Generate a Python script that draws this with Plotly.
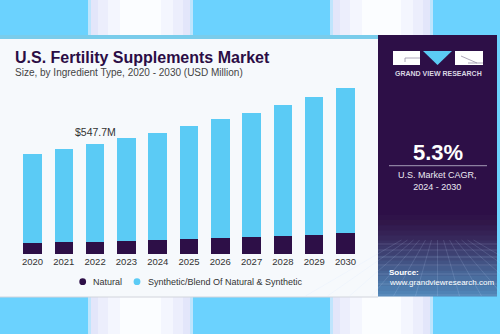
import plotly.graph_objects as go

W, H = 500, 334

years = ["2020", "2021", "2022", "2023", "2024", "2025", "2026", "2027", "2028", "2029", "2030"]
natural = [55, 60, 63, 68, 71, 76, 81, 84, 91, 97, 106]
synthetic = [443, 464, 484.7, 510, 533, 561, 589, 619, 650, 683, 720]
series_names = ["Natural", "Synthetic/Blend Of Natural & Synthetic"]
highlight_year = "2022"
highlight_label = "$547.7M"
cagr_text = "5.3%"
cagr_caption = "U.S. Market CAGR,<br>2024 - 2030"

DARK = "#2D0F47"
BLUE = "#5BCBF5"
FONT = "Liberation Sans, Arial, sans-serif"

xpos = [int(y) for y in years]


def X(px):
    return px / W


def Y(py):
    return 1 - py / H


def rect(x0, y0, x1, y1, color, layer="below"):
    return dict(type="rect", xref="paper", yref="paper", x0=X(x0), x1=X(x1), y0=Y(y1), y1=Y(y0),
                fillcolor=color, line=dict(width=0), layer=layer)


def pline(x0, y0, x1, y1, color, width=1):
    return dict(type="line", xref="paper", yref="paper", x0=X(x0), x1=X(x1), y0=Y(y0), y1=Y(y1),
                line=dict(color=color, width=width), layer="below")


shapes = []
# background white blurred bands
for bx0, bx1 in [(88, 193), (330, 433)]:
    steps = [(0, "#BFE5FD"), (3, "#E3E6FA"), (10, "#ECEEFC"), (20, "#F4F6FE"), (32, "#FBFDFF")]
    for inset, col in steps:
        shapes.append(rect(bx0 + inset, 0, bx1 - inset, H, col))

# card
shapes.append(rect(0, 35, 378, 297, "#F6F9FC"))
shapes.append(rect(0, 35, 378, 39, "#79CCEB"))
shapes.append(pline(0, 297, 378, 297, "#D2D4DC"))

# right panel with gradient bottom
shapes.append(rect(378, 35, 497, 296, DARK))
grad = ["#2F1349", "#311749", "#331C50", "#352255", "#37285B", "#393062", "#3B386A", "#3D4172",
        "#404A7B", "#425384", "#455C8D", "#476596", "#4A6E9F", "#4C76A7", "#4E7DAF", "#5083B5"]
y_start, y_end = 215, 296
step = (y_end - y_start) / len(grad)
for i, c in enumerate(grad):
    shapes.append(rect(378, y_start + i * step, 497, y_start + (i + 1) * step + 0.5, c))
for gy in [244, 250, 257, 265, 274, 284, 295]:
    shapes.append(pline(378, gy, 497, gy, "rgba(200,220,255,0.18)"))
for k in range(-6, 7):
    shapes.append(pline(437.5 + k * 6, 240, 437.5 + k * 22, 296, "rgba(200,220,255,0.15)"))

# logo
shapes.append(rect(393, 51, 420, 65, "white"))
shapes.append(rect(455, 51, 483, 65, "white"))
shapes.append(dict(type="path", xref="paper", yref="paper",
                   path=f"M {X(423)},{Y(51)} L {X(452)},{Y(51)} L {X(437.5)},{Y(65)} Z",
                   fillcolor=BLUE, line=dict(width=0), layer="below"))
shapes.append(pline(405, 58, 420, 58, "#9A93A8", 0.8))
shapes.append(pline(405, 58, 405, 62, "#9A93A8", 0.8))
shapes.append(pline(461, 56, 477, 63, "#9A93A8", 0.8))
shapes.append(pline(468, 63, 483, 63, "#9A93A8", 0.8))

# CAGR divider
shapes.append(pline(389, 165.7, 487, 165.7, "#8C7FA0", 1.2))

# legend markers
for cx, col in [(82.7, DARK), (137, BLUE)]:
    r = 3.4
    shapes.append(dict(type="circle", xref="paper", yref="paper", x0=X(cx - r), x1=X(cx + r),
                       y0=Y(281.7 + r), y1=Y(281.7 - r), fillcolor=col, line=dict(width=0), layer="above"))

fig = go.Figure()
fig.add_trace(go.Bar(x=xpos, y=natural, name=series_names[0], marker=dict(color=DARK, line=dict(width=0))))
fig.add_trace(go.Bar(x=xpos, y=synthetic, name=series_names[1], marker=dict(color=BLUE, line=dict(width=0))))

totals = [n + s for n, s in zip(natural, synthetic)]
hi = years.index(highlight_year)

annotations = [
    dict(text="<b>U.S. Fertility Supplements Market</b>", x=X(12.5), y=Y(57.5), xanchor="left", yanchor="middle",
         font=dict(family=FONT, size=16, color="#2B0D45")),
    dict(text="Size, by Ingredient Type, 2020 - 2030 (USD Million)", x=X(12.5), y=Y(72.7), xanchor="left",
         yanchor="middle", font=dict(family=FONT, size=10, color="#444444")),
    dict(text=highlight_label, x=xpos[hi], y=totals[hi], xref="x", yref="y", xanchor="center", yanchor="bottom",
         yshift=4, font=dict(family=FONT, size=10.5, color="#333333")),
    dict(text=series_names[0], x=X(90.5), y=Y(281.7), xanchor="left", yanchor="middle",
         font=dict(family=FONT, size=9, color="#333333")),
    dict(text=series_names[1], x=X(145.5), y=Y(281.7), xanchor="left", yanchor="middle",
         font=dict(family=FONT, size=9, color="#333333")),
    dict(text="<b>GRAND VIEW RESEARCH</b>", x=X(438), y=Y(73.5), xanchor="center", yanchor="middle",
         font=dict(family=FONT, size=7, color="#D9D5E2")),
    dict(text="<b>" + cagr_text + "</b>", x=X(438), y=Y(152.5), xanchor="center", yanchor="middle",
         font=dict(family=FONT, size=22, color="white")),
    dict(text=cagr_caption, x=X(437.5), y=Y(180.5), xanchor="center", yanchor="middle",
         font=dict(family=FONT, size=9, color="#ECEAF2")),
    dict(text="<b>Source:</b>", x=X(386.5), y=Y(272.5), xanchor="left", yanchor="middle",
         font=dict(family=FONT, size=8, color="white")),
    dict(text="www.grandviewresearch.com", x=X(386.5), y=Y(282.7), xanchor="left", yanchor="middle",
         font=dict(family=FONT, size=8, color="white")),
]
for a in annotations:
    a.setdefault("xref", "paper")
    a.setdefault("yref", "paper")
    a["showarrow"] = False

fig.update_layout(
    width=W, height=H,
    margin=dict(l=0, r=0, t=0, b=0),
    paper_bgcolor="#6BD2FE",
    plot_bgcolor="rgba(0,0,0,0)",
    barmode="stack",
    bargap=0.41,
    showlegend=False,
    shapes=shapes,
    annotations=annotations,
    xaxis=dict(domain=[X(16.85), X(361.15)], type="linear", range=[xpos[0] - 0.5, xpos[-1] + 0.5],
               tickmode="array", tickvals=xpos, ticktext=years, showgrid=False, zeroline=False,
               showline=False, ticks="", tickfont=dict(family=FONT, size=9.5, color="#333333"),
               fixedrange=True),
    yaxis=dict(domain=[Y(254.3), Y(80)], range=[0, 865.6], visible=False, fixedrange=True),
)

fig.write_html("out.html", config=dict(displayModeBar=False))
